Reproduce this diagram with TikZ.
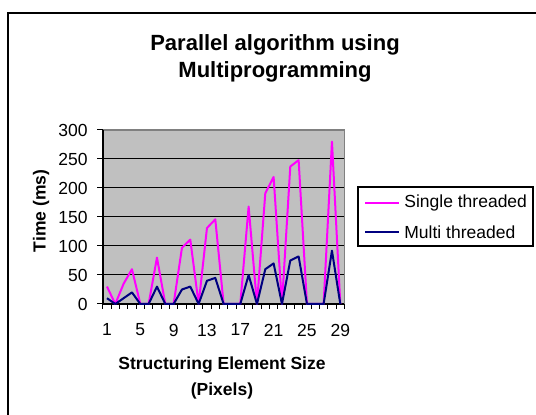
\documentclass[tikz,border=0pt]{standalone}
\usepackage{fontspec}
\setmainfont{Liberation Sans}
\usepackage{xcolor}
\usepackage{tikz}

\definecolor{plotgray}{HTML}{C0C0C0}
\definecolor{edgegray}{HTML}{808080}
\definecolor{single}{HTML}{FF00FF}
\definecolor{multi}{HTML}{000080}

\tikzset{
	lbl/.style={inner sep=0, font=\fontsize{8.75}{10.5}\selectfont},
	bold lbl/.style={lbl, font=\bfseries\fontsize{8.75}{13}\selectfont},
	series/.style={line width=1pt, line join=round}
}

\begin{document}
\begin{tikzpicture}[x=0.5pt,y=-0.5pt]

\useasboundingbox (0,0) rectangle (536,415);
\draw[line width=1pt] (8,415)--(8,13)--(536,13);

\node[inner sep=0, align=center, font=\bfseries\fontsize{11}{13.5}\selectfont] (title) at (275,58.5)
	{Parallel algorithm using\\Multiprogramming};

\begin{scope}[shift={(102.8,304)}, xscale=8.333, yscale=-0.58]

	\fill[plotgray] (0,0) rectangle (29,300);

	\foreach \v in {50,100,...,250}{
		\draw[line width=0.5pt] (0,\v)--(29,\v);
	}
	\draw[edgegray, line width=0.75pt] (0,300)--(29,300)--(29,0);
	\draw[line width=0.75pt] (0,300)--(0,0)--(29,0);

	\foreach \v in {0,50,...,300}{
		\draw[line width=0.5pt] (0,\v)--(-0.72,\v);
		\node[lbl, anchor=east] (yl\v) at (-1.78,\v) {\v};
	}

	\foreach \k in {0,...,29}{
		\draw[line width=0.5pt] (\k,0)--(\k,-8.6);
	}
	\foreach \k in {1,5,...,29}{
		\node[lbl] (xl\k) at (\k-0.5,-44.8) {\k};
	}

	\draw[series, single] (0.5,30) \foreach \v [count=\k from 2] in
		{0,35,60,0,0,80,0,0,97,111,0,131,146,0,0,0,168,0,191,219,0,237,248,0,0,0,280,0}
		{ -- (\k-0.5,\v) };

	\draw[series, multi] (0.5,10) \foreach \v [count=\k from 2] in
		{0,10,20,0,0,30,0,0,25,30,0,40,45,0,0,0,50,0,60,70,0,75,82,0,0,0,92,0}
		{ -- (\k-0.5,\v) };

\end{scope}

\node[bold lbl, rotate=90] (ytitle) at (41,211) {Time (ms)};
\node[bold lbl, align=center] (xtitle) at (222,378) {Structuring Element Size\\(Pixels)};

\draw[line width=0.75pt] (358,187) rectangle (533,246);
\draw[series, single] (365,203)--(399,203);
\draw[series, multi] (365,232)--(399,232);
\node[lbl, anchor=west] (lsingle) at (404,203) {Single threaded};
\node[lbl, anchor=west] (lmulti) at (404,232) {Multi threaded};

\end{tikzpicture}
\end{document}
